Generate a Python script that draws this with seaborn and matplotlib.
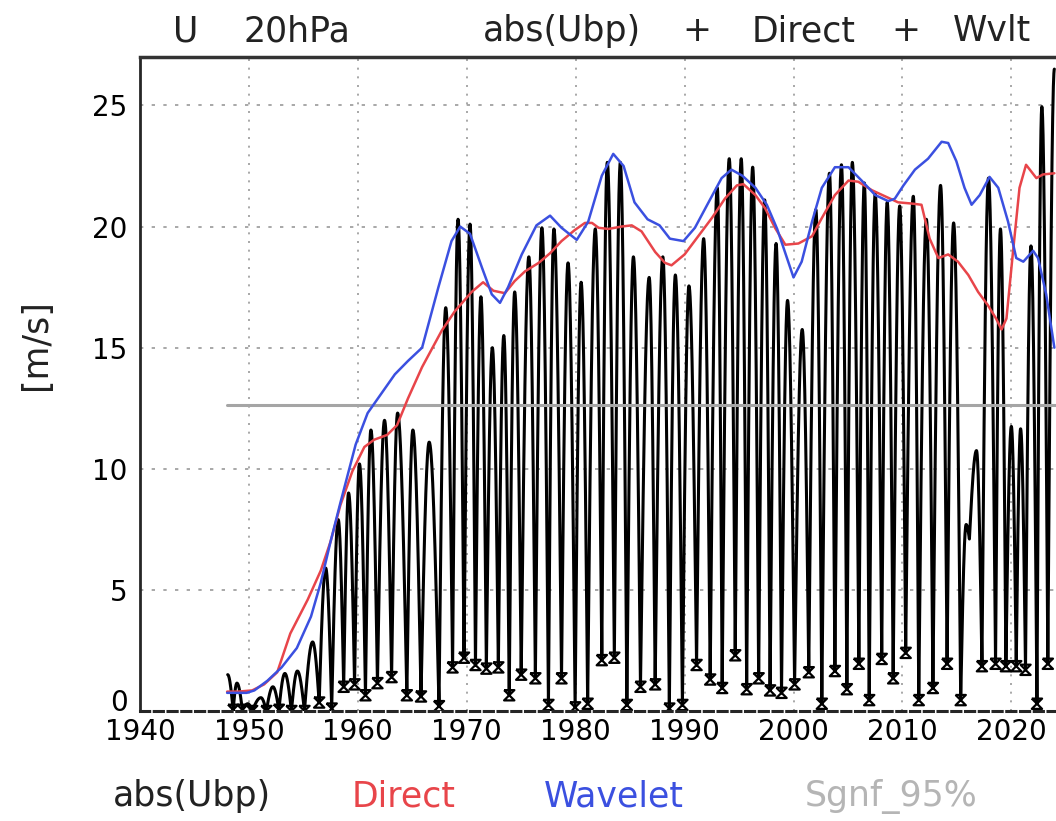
import numpy as np
import pandas as pd
import matplotlib
matplotlib.use("Agg")
import matplotlib.pyplot as plt
import matplotlib.transforms as mtransforms
import seaborn as sns
from matplotlib.path import Path
from matplotlib.markers import MarkerStyle

# ---------------- data ----------------
peak_years = [1948.05, 1948.9, 1949.9, 1951.1, 1952.2, 1953.3, 1954.45, 1955.85, 1957.05, 1958.2,
              1959.15, 1960.15, 1961.2, 1962.45, 1963.65, 1965.05, 1966.55, 1968.07, 1969.2, 1970.3,
              1971.3, 1972.35, 1973.4, 1974.4, 1975.7, 1976.9, 1978.0, 1979.3, 1980.5, 1981.8,
              1982.9, 1984.1, 1985.3, 1986.75, 1988.0, 1989.15, 1990.4, 1991.75, 1993.0, 1994.1,
              1995.2, 1996.25, 1997.35, 1998.4, 1999.45, 2000.8, 2002.05, 2003.3, 2004.4, 2005.4,
              2006.5, 2007.5, 2008.6, 2009.75, 2011.0, 2012.2, 2013.5, 2014.7, 2015.85, 2016.8,
              2017.9, 2019.0, 2020.0, 2020.85, 2021.8, 2022.8, 2023.95]
peak_vals = [1.5, 1.15, 0.3, 0.55, 1.0, 1.55, 1.65, 2.85, 5.9, 7.9,
             9.0, 10.2, 11.6, 12.0, 12.3, 11.6, 11.1, 16.65, 20.3, 20.1,
             17.1, 15.0, 15.5, 17.3, 18.75, 19.95, 19.9, 18.5, 17.7, 19.9,
             22.65, 22.65, 18.75, 17.9, 18.75, 18.0, 17.55, 19.5, 21.6, 22.8,
             22.8, 22.45, 21.1, 19.3, 16.95, 15.75, 20.7, 22.2, 22.55, 22.65,
             21.8, 21.35, 21.0, 20.85, 21.25, 20.3, 21.7, 20.15, 7.7, 10.75,
             22.0, 19.9, 11.75, 11.65, 19.2, 24.95, 26.5]
trough_years = [1948.55, 1949.4, 1950.3, 1951.6, 1952.75, 1953.9, 1955.1, 1956.45, 1957.6, 1958.7,
                1959.7, 1960.7, 1961.8, 1963.1, 1964.5, 1965.8, 1967.45, 1968.7, 1969.75, 1970.8,
                1971.8, 1972.9, 1973.9, 1975.0, 1976.3, 1977.5, 1978.7, 1979.95, 1981.1, 1982.4,
                1983.55, 1984.7, 1985.95, 1987.3, 1988.6, 1989.8, 1991.1, 1992.35, 1993.45, 1994.65,
                1995.7, 1996.8, 1997.85, 1998.9, 2000.1, 2001.4, 2002.6, 2003.8, 2004.9, 2006.0,
                2006.95, 2008.1, 2009.15, 2010.3, 2011.5, 2012.8, 2014.1, 2015.35, 2016.15, 2017.3,
                2018.55, 2019.5, 2020.45, 2021.3, 2022.35, 2023.35]
trough_vals = [0.05, 0.05, 0.0, 0.0, 0.05, 0.0, 0.0, 0.35, 0.1, 1.0,
               1.1, 0.65, 1.15, 1.4, 0.65, 0.6, 0.2, 1.8, 2.2, 1.9,
               1.75, 1.8, 0.65, 1.5, 1.35, 0.25, 1.35, 0.15, 0.3, 2.1,
               2.2, 0.25, 1.0, 1.1, 0.1, 0.25, 1.9, 1.3, 0.95, 2.3,
               0.9, 1.35, 0.85, 0.75, 1.1, 1.6, 0.3, 1.65, 0.9, 1.95,
               0.45, 2.15, 1.35, 2.4, 0.45, 0.95, 1.95, 0.45, 7.1, 1.85,
               1.95, 1.85, 1.85, 1.7, 0.3, 1.95]

direct_years = [1948.0, 1949.0, 1950.3, 1951.4, 1952.6, 1953.8, 1955.4, 1956.6, 1957.5, 1958.4,
                1959.5, 1960.6, 1961.5, 1962.7, 1963.6, 1964.6, 1965.9, 1967.7, 1968.9, 1970.45,
                1971.5, 1972.45, 1973.5, 1974.4, 1975.35, 1976.6, 1977.65, 1978.7, 1979.9, 1980.85,
                1981.5, 1982.1, 1983.0, 1984.2, 1985.15, 1986.05, 1987.3, 1988.2, 1988.8, 1990.0,
                1991.25, 1992.5, 1993.7, 1994.8, 1995.4, 1996.5, 1997.4, 1998.3, 1999.25, 2000.45,
                2001.7, 2002.6, 2003.8, 2005.05, 2005.95, 2007.2, 2008.4, 2009.6, 2010.85, 2011.75,
                2012.5, 2013.3, 2014.2, 2015.1, 2016.05, 2016.95, 2017.85, 2018.6, 2019.1, 2019.55,
                2020.15, 2020.75, 2021.35, 2022.3, 2022.9, 2023.95]
direct_vals = [0.8, 0.8, 0.85, 1.1, 1.6, 3.2, 4.6, 5.8, 7.0, 8.5,
               9.9, 10.9, 11.2, 11.4, 11.8, 12.9, 14.2, 15.7, 16.5, 17.3,
               17.7, 17.35, 17.25, 17.75, 18.15, 18.5, 18.9, 19.4, 19.85, 20.15,
               20.15, 19.95, 19.9, 20.0, 20.05, 19.8, 18.95, 18.5, 18.4, 18.85,
               19.6, 20.35, 21.15, 21.7, 21.75, 21.3, 20.75, 19.95, 19.25, 19.3,
               19.6, 20.35, 21.3, 21.9, 21.85, 21.5, 21.25, 21.0, 20.95, 20.9,
               19.5, 18.7, 18.85, 18.55, 18.0, 17.3, 16.75, 16.2, 15.75, 16.2,
               18.95, 21.6, 22.55, 22.0, 22.15, 22.2]

wavelet_years = [1948.0, 1949.8, 1950.5, 1951.7, 1953.0, 1954.4, 1955.7, 1956.6, 1957.5, 1958.4,
                 1959.8, 1960.9, 1962.15, 1963.4, 1964.6, 1965.9, 1967.4, 1968.6, 1969.4, 1970.3,
                 1971.4, 1972.3, 1973.05, 1973.8, 1975.05, 1976.4, 1977.65, 1978.7, 1980.1, 1981.15,
                 1982.4, 1983.45, 1984.4, 1985.4, 1986.6, 1987.7, 1988.65, 1989.9, 1990.95, 1992.2,
                 1993.4, 1994.3, 1995.3, 1996.5, 1997.55, 1998.5, 1999.4, 2000.0, 2000.75, 2001.7,
                 2002.6, 2003.8, 2005.05, 2006.25, 2007.5, 2008.7, 2009.3, 2010.1, 2011.15, 2012.35,
                 2013.6, 2014.2, 2014.95, 2015.7, 2016.35, 2017.1, 2018.0, 2018.8, 2019.7, 2020.45,
                 2021.1, 2022.0, 2022.45, 2023.2, 2023.95]
wavelet_vals = [0.75, 0.75, 0.85, 1.25, 1.8, 2.6, 3.9, 5.3, 7.0, 8.6,
                11.0, 12.3, 13.1, 13.9, 14.45, 15.0, 17.5, 19.4, 20.0, 19.7,
                18.3, 17.2, 16.85, 17.5, 18.85, 20.05, 20.45, 19.95, 19.45, 20.2,
                22.1, 23.0, 22.5, 21.0, 20.3, 20.05, 19.5, 19.4, 19.95, 21.0,
                22.0, 22.35, 22.1, 21.6, 20.9, 19.9, 18.7, 17.9, 18.55, 20.2,
                21.6, 22.45, 22.45, 21.9, 21.3, 21.05, 21.15, 21.7, 22.35, 22.8,
                23.5, 23.45, 22.7, 21.6, 20.9, 21.3, 22.05, 21.6, 20.2, 18.7,
                18.55, 19.0, 18.7, 17.2, 15.0]

sig_level = 12.65
sig_years = [1948.0, 2024.1]

x_ticks = [1940, 1950, 1960, 1970, 1980, 1990, 2000, 2010, 2020]
y_ticks = [0, 5, 10, 15, 20, 25]

title_words = ["U", "20hPa", "abs(Ubp)", "+", "Direct", "+", "Wvlt"]
title_centers = [186, 297, 562, 697, 804, 906, 992]
legend_words = ["abs(Ubp)", "Direct", "Wavelet", "Sgnf_95%"]
legend_centers = [192, 404, 614, 891]
legend_colors = ["#222222", "#e8454a", "#3b50e0", "#b5b5b5"]

# ---------------- build the abs(Ubp) arches from the read extremes ----------------
kt, kv = [], []
for i in range(len(trough_years)):
    kt += [peak_years[i], trough_years[i]]
    kv += [peak_vals[i], trough_vals[i]]
kt.append(peak_years[-1]); kv.append(peak_vals[-1])

xs, ys = [], []
for j in range(len(kt) - 1):
    t0, t1, v0, v1 = kt[j], kt[j + 1], kv[j], kv[j + 1]
    s = np.linspace(0, 1, 40)[:-1] if j < len(kt) - 2 else np.linspace(0, 1, 40)
    if v1 < v0:   # falling: peak -> trough
        y = v1 + (v0 - v1) * np.cos(np.pi / 2 * s)
    else:         # rising: trough -> peak
        y = v0 + (v1 - v0) * np.sin(np.pi / 2 * s)
    xs.append(t0 + (t1 - t0) * s)
    ys.append(y)
ubp = pd.DataFrame({"year": np.concatenate(xs), "val": np.concatenate(ys)})

# ---------------- figure ----------------
sns.set_style("white")
plt.rcParams["font.family"] = ["DejaVu Sans"]

W, H = 1056, 821
fig = plt.figure(figsize=(W / 100, H / 100), dpi=100)
ax = fig.add_axes([140 / W, 1 - 711 / H, 1 - 140 / W, (711 - 57) / H])

gridc = "#9a9a9a"
for xv in x_ticks[1:]:
    ax.axvline(xv, color=gridc, lw=1.2, ls=(0, (1.2, 4)), zorder=0)
for yv in y_ticks[1:]:
    ax.axhline(yv, color=gridc, lw=1.2, ls=(0, (2, 5)), zorder=0)

sns.lineplot(data=ubp, x="year", y="val", ax=ax, color="black", lw=2.2, sort=False,
             estimator=None, zorder=2)

mask = np.array(trough_vals) < 5
hour = Path([(-1, 1), (1, 1), (-1, -1), (1, -1), (-1, 1)],
            [Path.MOVETO, Path.LINETO, Path.LINETO, Path.LINETO, Path.LINETO])
ast = pd.DataFrame({"year": np.array(trough_years)[mask], "val": np.array(trough_vals)[mask]})
sns.scatterplot(data=ast, x="year", y="val", ax=ax, marker=MarkerStyle(hour, fillstyle="none"),
                s=55, color="black", edgecolor="black", linewidth=1.6, zorder=3)

sig = pd.DataFrame({"year": sig_years, "val": [sig_level, sig_level]})
sns.lineplot(data=sig, x="year", y="val", ax=ax, color="#a5a5a5", lw=2.2, zorder=4)

dr = pd.DataFrame({"year": direct_years, "val": direct_vals})
sns.lineplot(data=dr, x="year", y="val", ax=ax, color="#e8454a", lw=1.8, sort=False,
             estimator=None, zorder=5)
wv = pd.DataFrame({"year": wavelet_years, "val": wavelet_vals})
sns.lineplot(data=wv, x="year", y="val", ax=ax, color="#3b50e0", lw=1.8, sort=False,
             estimator=None, zorder=6)

ax.set_xlim(1940, 2024.1)
ax.set_ylim(0, 27)
ax.set_xticks(x_ticks)
ax.set_yticks(y_ticks)
ax.set_xlabel("")
ax.set_ylabel("")
ax.tick_params(axis="both", direction="out", length=8, width=1.5, colors="black",
               labelsize=20, pad=1)
ax.tick_params(axis="x", pad=-3)

# lift the "0" label so it sits above the "1940" label like in the reference
ylabs = ax.get_yticklabels()
ylabs[0].set_transform(ylabs[0].get_transform() +
                       mtransforms.ScaledTranslation(0, 11 / 100, fig.dpi_scale_trans))

ax.spines["right"].set_visible(False)
ax.spines["top"].set_linewidth(2.5)
ax.spines["top"].set_color("#333333")
ax.spines["left"].set_linewidth(2.0)
ax.spines["left"].set_linestyle((0, (2, 1)))
ax.spines["bottom"].set_linewidth(2.2)
ax.spines["bottom"].set_linestyle((0, (3, 1.5)))
for sp in ax.spines.values():
    sp.set_zorder(7)

# texts
for w, c in zip(title_words, title_centers):
    fig.text(c / W, 1 - 31 / H, w, fontsize=25, ha="center", va="center", color="#222222")
fig.text(36 / W, 1 - 345 / H, "[m/s]", fontsize=25, rotation=90, ha="center", va="center",
         color="#222222")
for w, c, col in zip(legend_words, legend_centers, legend_colors):
    fig.text(c / W, 1 - 796 / H, w, fontsize=25, ha="center", va="center", color=col)

fig.savefig("out.png", dpi=100)
